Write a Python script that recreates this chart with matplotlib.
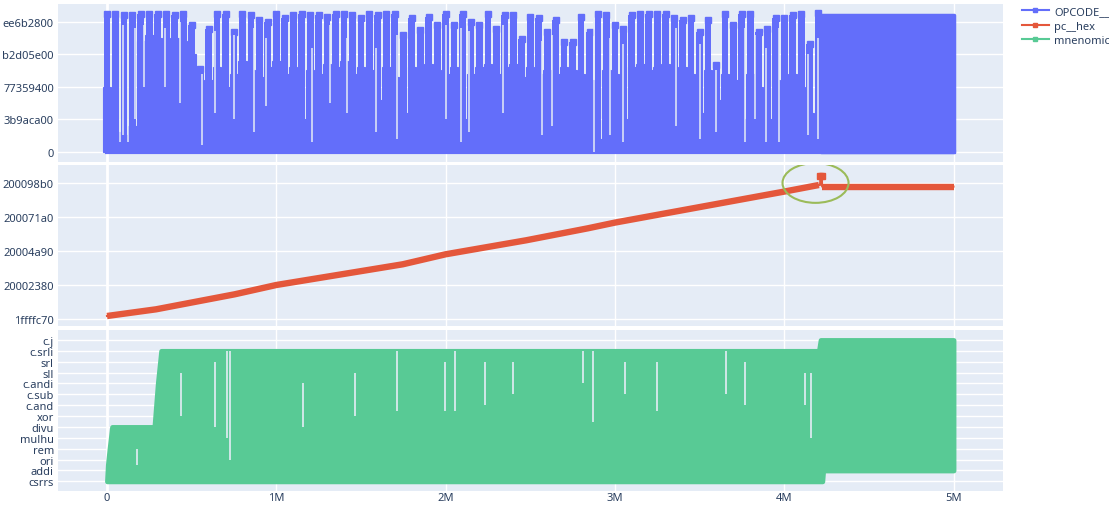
import matplotlib
matplotlib.use("Agg")
import matplotlib.pyplot as plt
from matplotlib.patches import Ellipse
from matplotlib.lines import Line2D

# ---------------- data ----------------
# OPCODE__ : dense columns, x in millions of steps, values in 1e9 units
op_x = [0.00, 0.05, 0.10, 0.15, 0.20, 0.25, 0.30, 0.35, 0.40, 0.45,
        0.50, 0.55, 0.60, 0.65, 0.70, 0.75, 0.80, 0.85, 0.90, 0.95,
        1.00, 1.05, 1.10, 1.15, 1.20, 1.25, 1.30, 1.35, 1.40, 1.45,
        1.50, 1.55, 1.60, 1.65, 1.70, 1.75, 1.80, 1.85, 1.90, 1.95,
        2.00, 2.05, 2.10, 2.15, 2.20, 2.25, 2.30, 2.35, 2.40, 2.45,
        2.50, 2.55, 2.60, 2.65, 2.70, 2.75, 2.80, 2.85, 2.90, 2.95,
        3.00, 3.05, 3.10, 3.15, 3.20, 3.25, 3.30, 3.35, 3.40, 3.45,
        3.50, 3.55, 3.60, 3.65, 3.70, 3.75, 3.80, 3.85, 3.90, 3.95,
        4.00, 4.05, 4.10, 4.15, 4.20]
op_top = [4.25, 4.25, 4.20, 4.20, 4.25, 4.25, 4.25, 4.25, 4.20, 4.25,
          3.89, 2.56, 3.79, 4.25, 4.25, 3.69, 4.25, 4.20, 4.05, 3.99,
          4.25, 4.10, 4.20, 4.25, 4.20, 4.20, 4.15, 4.25, 4.25, 4.20,
          4.10, 4.25, 4.20, 4.25, 4.25, 3.58, 4.10, 3.74, 4.15, 3.89,
          4.25, 3.89, 4.25, 3.99, 3.89, 4.25, 3.79, 4.20, 4.20, 3.48,
          4.15, 4.10, 3.69, 4.05, 3.38, 3.38, 4.15, 3.69, 4.25, 4.20,
          3.89, 3.79, 4.20, 4.25, 4.25, 4.25, 4.25, 4.10, 4.05, 4.10,
          3.69, 4.05, 2.66, 4.25, 3.89, 4.25, 4.25, 3.69, 3.79, 4.10,
          4.10, 4.20, 4.25, 3.30, 4.28]
# level below which the trace looks solid
op_base = [2.0, 0.6, 0.5, 0.8, 3.4, 3.6, 3.5, 3.3, 3.5, 3.4,
           3.0, 0.3, 2.2, 2.6, 2.0, 2.4, 2.8, 2.5, 2.3, 2.6,
           2.8, 2.4, 2.6, 1.0, 2.5, 2.4, 2.7, 2.6, 2.8, 2.4,
           2.6, 2.5, 1.6, 2.6, 2.3, 1.2, 2.6, 2.4, 2.7, 2.5,
           2.4, 2.6, 1.0, 2.4, 2.6, 2.7, 2.4, 2.6, 2.7, 2.3,
           2.6, 2.4, 2.5, 2.4, 2.6, 2.5, 2.4, 2.2, 0.4, 2.5,
           2.4, 1.0, 2.6, 2.7, 2.5, 2.6, 2.7, 2.4, 2.6, 2.4,
           1.2, 2.5, 1.6, 2.4, 2.2, 1.0, 2.4, 2.0, 1.0, 2.2,
           1.2, 2.4, 2.0, 1.2, 1.0]
op_block_x = [4.22, 5.00]
op_block_top = [4.22, 4.22]
# white streaks (x in M, from, to in 1e9 units)
op_gap_x = [0.077, 0.096, 0.126, 0.165, 0.22, 0.34, 0.43, 0.56, 0.64, 0.75,
            0.87, 0.94, 1.21, 1.32, 1.42, 1.59, 1.71, 2.00, 2.09, 2.14,
            2.34, 2.57, 2.63, 2.876, 2.97, 3.05, 3.36, 3.50, 3.60, 3.77,
            3.83, 3.89, 3.97, 4.14, 4.20]
op_gap_lo = [0.3, 0.5, 0.3, 1.0, 2.0, 2.0, 1.5, 0.2, 1.2, 1.0,
             0.6, 1.4, 0.3, 1.5, 1.2, 0.6, 0.4, 1.0, 0.3, 0.6,
             1.2, 0.5, 0.8, 0.0, 0.5, 0.3, 0.8, 0.4, 0.6, 0.3,
             1.0, 0.3, 0.3, 0.5, 0.4]
op_gap_hi = [3.6, 3.9, 3.5, 3.8, 3.9, 3.8, 4.0, 2.4, 3.7, 3.6,
             3.8, 3.5, 3.2, 3.9, 3.5, 3.2, 3.6, 3.9, 3.8, 3.7,
             3.9, 3.4, 3.6, 4.0, 3.5, 3.3, 3.8, 3.3, 2.5, 3.8,
             3.6, 3.2, 3.8, 3.0, 3.5]

# pc__hex
pc_x = [0.0, 0.29, 0.754, 1.0, 1.747, 2.0, 2.476, 2.84, 3.0, 4.0, 4.205,
        4.212, 4.214, 4.222, 4.224, 4.226, 5.0]
pc_y = [536870970, 536872940, 536877350, 536880090, 536886180, 536889120,
        536893240, 536896760, 536898440, 536907560, 536909500,
        536909500, 536912150, 536912150, 536909030, 536909030, 536909030]

# mnenomic (categorical), envelope of the dense trace
mn_cats = ["csrrs", "addi", "ori", "rem", "mulhu", "divu", "xor",
           "c.and", "c.sub", "c.andi", "sll", "srl", "c.srli", "c.j"]
mn_x = [0.0, 0.005, 0.015, 0.03, 0.28, 0.30, 0.32, 4.205, 4.215, 4.225, 4.23, 5.0]
mn_hi = [0, 1.5, 3, 5, 5, 9, 12, 12, 13, 13, 13, 13]
mn_lo = [0, 0, 0, 0, 0, 0, 0, 0, 0, 0, 1, 1]
mn_gap_x = [0.175, 0.44, 0.64, 0.707, 0.726, 1.16, 1.464, 1.71, 1.996, 2.054,
            2.23, 2.40, 2.81, 2.871, 3.06, 3.25, 3.654, 3.77, 4.12, 4.16]
mn_gap_lo = [1.5, 6, 5, 4, 2, 5, 6, 6.5, 6.5, 6.5,
             7, 8, 9, 5.5, 8, 6.5, 8, 7, 7, 4]
mn_gap_hi = [3, 10, 11, 12, 12, 9, 10, 12, 11, 12,
             11, 11, 12, 12, 11, 11, 12, 11, 10, 10]

x_ticks = [0, 1, 2, 3, 4, 5]
x_labels = ["0", "1M", "2M", "3M", "4M", "5M"]
op_ticks = [0, 1e9, 2e9, 3e9, 4e9]
pc_ticks = [536870000, 536880000, 536890000, 536900000, 536910000]

# ---------------- style ----------------
W, H = 1109, 506
BG = "#E5ECF6"
FG = "#2a3f5f"
BLUE = "#636efa"
RED = "#e4573b"
GREEN = "#58ca95"
FS = 8.0
plt.rcParams["font.family"] = ["Noto Sans", "DejaVu Sans"]

fig = plt.figure(figsize=(W / 100, H / 100), dpi=100)
fig.patch.set_facecolor("white")


def px_axes(l, t, r, b):
    return fig.add_axes([l / W, 1 - b / H, (r - l) / W, (b - t) / H])


X0, X1 = 58, 1003
xlim = ((X0 - 107) / 169.3 * 1e6, (X1 - 107) / 169.3 * 1e6)

ax1 = px_axes(X0, 5, X1, 163)
ax2 = px_axes(X0, 166, X1, 327)
ax3 = px_axes(X0, 331, X1, 492)

for ax in (ax1, ax2, ax3):
    ax.set_facecolor(BG)
    ax.set_xlim(*xlim)
    ax.set_xticks([t * 1e6 for t in x_ticks])
    for s in ax.spines.values():
        s.set_visible(False)
    ax.grid(True, color="white", linewidth=1.0)
    ax.set_axisbelow(True)
    ax.tick_params(length=0, labelsize=FS, labelcolor=FG, pad=3)
    ax.axvline(0, color="white", linewidth=2, zorder=0.5)

ax1.set_xticklabels([])
ax2.set_xticklabels([])
ax3.set_xticklabels(x_labels)
ax3.tick_params(axis="x", pad=1)

# ---- top: OPCODE ----
xs = [v * 1e6 for v in op_x]
tops = [v * 1e9 for v in op_top]
base = [v * 1e9 for v in op_base]
ax1.bar(xs, base, width=0.05e6, color=BLUE, edgecolor=BLUE, linewidth=0.8, zorder=2)
ax1.bar(xs, tops, width=0.04e6, color=BLUE, linewidth=0, zorder=2)
ax1.fill_between([v * 1e6 for v in op_block_x], 0, [v * 1e9 for v in op_block_top],
                 color=BLUE, edgecolor=BLUE, linewidth=2.5, zorder=2)
ax1.plot(xs, tops, linestyle="none", marker="s", markersize=3.8, color=BLUE, zorder=3)
ax1.vlines([v * 1e6 for v in op_gap_x], [v * 1e9 for v in op_gap_lo],
           [v * 1e9 for v in op_gap_hi], color=BG, linewidth=1.1, zorder=4)
ax1.axhline(0, color=BLUE, linewidth=3, xmin=(0 - xlim[0]) / (xlim[1] - xlim[0]),
            xmax=(5e6 - xlim[0]) / (xlim[1] - xlim[0]), zorder=2)
ax1.set_ylim((152.7 - 163) / 32.5 * 1e9, (152.7 - 5) / 32.5 * 1e9)
ax1.set_yticks(op_ticks)
ax1.set_yticklabels([format(int(v), "x") for v in op_ticks])

# ---- middle: pc__hex ----
px = [v * 1e6 for v in pc_x]
ax2.plot(px, pc_y, color=RED, linewidth=1.5, zorder=2)
ax2.plot(px[:11], pc_y[:11], color=RED, linewidth=4.6, solid_capstyle="butt", zorder=3)
ax2.plot(px[14:], pc_y[14:], color=RED, linewidth=4.6, solid_capstyle="butt", zorder=3)
ax2.plot(px[12:14], pc_y[12:14], color=RED, linewidth=4.4, marker="s", markersize=4.2,
         solid_capstyle="butt", zorder=3)
ax2.set_ylim(536868030, 536915382)
ax2.set_yticks(pc_ticks)
ax2.set_yticklabels([format(int(v), "x") for v in pc_ticks])
ax2.add_patch(Ellipse((4.185e6, 536910100), 0.39e6, 11700, fill=False,
                      edgecolor="#9bbb59", linewidth=1.5, zorder=5))

# ---- bottom: mnenomic ----
mx = [v * 1e6 for v in mn_x]
ax3.fill_between(mx, mn_lo, mn_hi, color=GREEN, edgecolor=GREEN, linewidth=3.5, zorder=2)
ax3.vlines([v * 1e6 for v in mn_gap_x], mn_gap_lo, mn_gap_hi, color=BG,
           linewidth=1.2, zorder=3)
ax3.set_ylim(-0.89, 13.92)
ax3.set_yticks(range(len(mn_cats)))
ax3.set_yticklabels(mn_cats)

# ---- legend ----
handles = [Line2D([], [], color=c, linewidth=1.5, marker="s", markersize=3.5)
           for c in (BLUE, RED, GREEN)]
leg = fig.legend(handles, ["OPCODE__", "pc__hex", "mnenomic"], loc="upper left",
                 bbox_to_anchor=(1022 / W, 1 - 7 / H), frameon=False, fontsize=FS,
                 handlelength=2.4, handletextpad=0.5, labelspacing=0.33,
                 borderaxespad=0, borderpad=0)
for t in leg.get_texts():
    t.set_color(FG)

fig.savefig("out.png", dpi=100)
